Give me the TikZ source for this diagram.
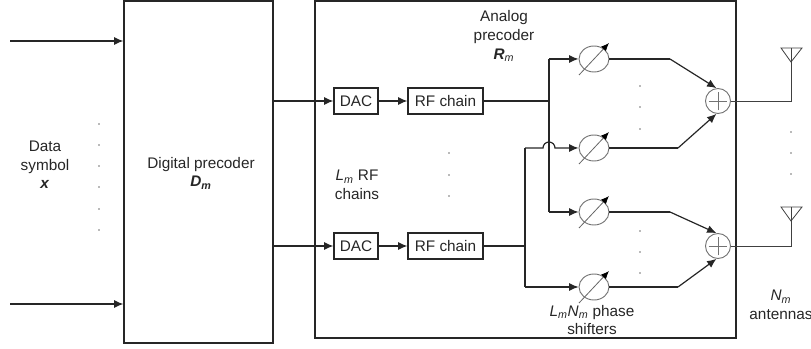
\documentclass[tikz,border=0pt]{standalone}
\usepackage{fontspec}
\setmainfont{Liberation Sans}
\usetikzlibrary{arrows.meta,shapes.geometric}
\begin{document}
\begin{tikzpicture}[x=0.75pt,y=-0.75pt,
  box/.style={draw=black!85,line width=0.9pt,inner sep=0pt},
  ln/.style={line width=0.9pt,draw=black!85},
  arr/.style={ln,-{Latex[length=7pt,width=6pt]}},
  psh/.style={ellipse,draw=black!55,line width=0.7pt,minimum width=22.5pt,minimum height=19.5pt,inner sep=0pt},
  summ/.style={circle,draw=black!55,line width=0.7pt,minimum size=18.75pt,inner sep=0pt},
  txt/.style={align=center,text=black!85,font=\fontsize{11.5}{14}\selectfont,inner sep=0pt},
  dotn/.style={circle,fill=black!55,inner sep=0pt,minimum size=1.3pt},
  psarr/.style={draw=black!60,line width=0.6pt,-{Latex[length=6pt,width=5pt,color=black]}},
  ant/.style={draw=black!75,line width=0.6pt}
]
\useasboundingbox (0,0) rectangle (811,349);

% boxes
\node[box,minimum width=111.75pt,minimum height=256.5pt] (dp) at (198.5,172) {};
\node[box,minimum width=315.75pt,minimum height=252.75pt] (ap) at (525.5,169.5) {};
\node[box,minimum width=33pt,minimum height=19.5pt,txt] (dac1) at (356,101) {DAC};
\node[box,minimum width=33pt,minimum height=19.5pt,txt] (dac2) at (356,246) {DAC};
\node[box,minimum width=56.25pt,minimum height=19.5pt,txt] (rf1) at (445.5,101) {RF chain};
\node[box,minimum width=56.25pt,minimum height=19.5pt,txt] (rf2) at (445.5,246) {RF chain};

% phase shifters
\node[psh] (p1) at (594,59) {};
\node[psh] (p2) at (594,148) {};
\node[psh] (p3) at (594,212) {};
\node[psh] (p4) at (594,287) {};
\foreach \p in {p1,p2,p3,p4}{
  \draw[psarr] ([shift={(-11.25pt,-12pt)}]\p.center) -- ([shift={(11.25pt,12pt)}]\p.center);
}

% summers
\node[summ] (s1) at (718,101) {};
\node[summ] (s2) at (718,246) {};
\foreach \s in {s1,s2}{
  \draw[black!55,line width=0.6pt] ([xshift=-7pt]\s.center) -- ([xshift=7pt]\s.center);
  \draw[black!55,line width=0.6pt] ([yshift=-7pt]\s.center) -- ([yshift=7pt]\s.center);
}

% inputs
\coordinate (in1) at (10,41);
\coordinate (in2) at (10,304);
\draw[arr] (in1) -- (in1 -| dp.west);
\draw[arr] (in2) -- (in2 -| dp.west);

% digital -> DAC -> RF
\draw[arr] (dp.east |- dac1) -- (dac1.west);
\draw[arr] (dp.east |- dac2) -- (dac2.west);
\draw[arr] (dac1) -- (rf1);
\draw[arr] (dac2) -- (rf2);

% splitting upper
\coordinate (j1) at (549,101);
\coordinate (j1t) at (549,59);
\coordinate (j1b) at (549,212);
\draw[ln] (rf1.east) -- (j1);
\draw[ln] (j1t) -- (j1b);
\draw[arr] (j1t) -- (p1.west);
\draw[arr] (j1b) -- (p3.west);

% splitting lower
\coordinate (j2) at (525,246);
\coordinate (j2t) at (525,148);
\coordinate (j2b) at (525,287);
\coordinate (hop) at (543,148);
\draw[ln] (rf2.east) -- (j2);
\draw[ln] (j2t) -- (j2b);
\draw[arr] (j2t) -- (hop) arc[start angle=180,end angle=0,radius=4.5pt] -- (p2.west);
\draw[arr] (j2b) -- (p4.west);

% to summers
\coordinate (b1) at (670,59);
\coordinate (b2) at (678,148);
\coordinate (b3) at (670,212);
\coordinate (b4) at (678,287);
\draw[ln] (p1.east) -- (b1);
\draw[ln] (p2.east) -- (b2);
\draw[ln] (p3.east) -- (b3);
\draw[ln] (p4.east) -- (b4);
\draw[arr] (b1) -- (s1.97);
\draw[arr] (b2) -- (s1.263);
\draw[arr] (b3) -- (s2.97);
\draw[arr] (b4) -- (s2.263);

% antennas
\coordinate (a1) at (791,101);
\coordinate (a1t) at (791,48);
\coordinate (a2) at (791,246);
\coordinate (a2t) at (791,207);
\draw[ant] (s1.east) -- (a1) -- (a1t);
\draw[ant] (s2.east) -- (a2) -- (a2t);
\draw[ant] (781,48) -- (802,48) -- (791,62) -- cycle;
\draw[ant] (781,207) -- (802,207) -- (791,221) -- cycle;

% dots
\foreach \y in {124,145,166,187,209,230} \node[dotn] at (99,\y) {};
\foreach \y in {153,175,196} \node[dotn] at (449,\y) {};
\foreach \y in {86,107,129,231,252,273} \node[dotn] at (640,\y) {};
\foreach \y in {132,153,174} \node[dotn] at (791,\y) {};

% texts
\node[txt] (tdata) at (45,165) {Data\\symbol\\\textbf{\textit{x}}};
\node[txt] (tdp) at (201,173) {Digital precoder\\\textbf{\textit{D\textsubscript{m}}}};
\node[txt] (tap) at (504,36) {Analog\\precoder\\\textbf{\textit{R}}\textsubscript{\textit{m}}};
\node[txt] (trf) at (357,185) {\textit{L}\textsubscript{\textit{m}} RF\\chains};
\node[txt] (tps) at (592,320) {\textit{L}\textsubscript{\textit{m}}\textit{N}\textsubscript{\textit{m}} phase\\shifters};
\node[txt] (tant) at (781,305) {\textit{N}\textsubscript{\textit{m}}\\antennas};
\end{tikzpicture}
\end{document}
